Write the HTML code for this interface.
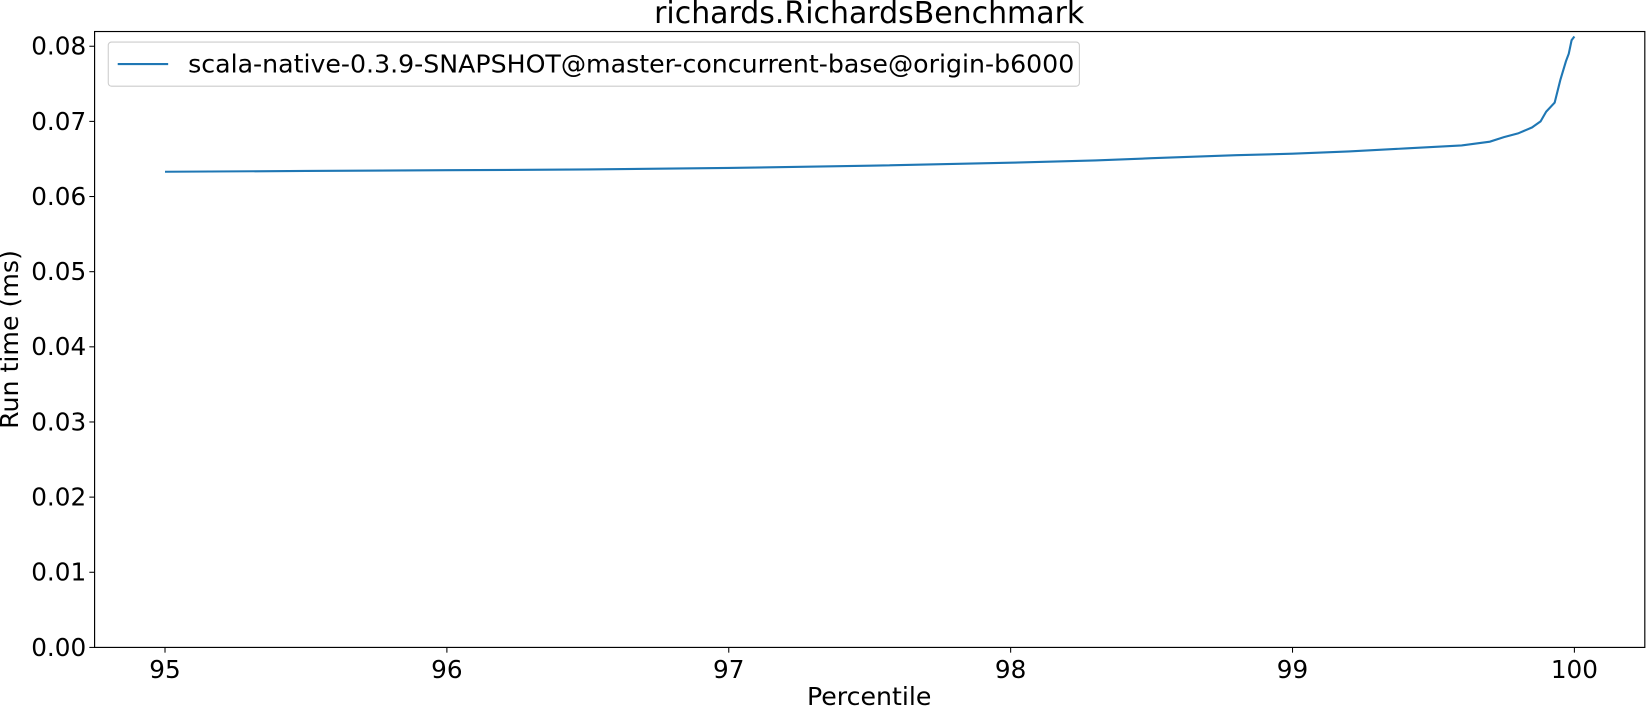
<!DOCTYPE html>
<html><head><meta charset="utf-8"><style>
body{margin:0;background:#fff;}
svg text{font-family:"DejaVu Sans","Liberation Sans",sans-serif;fill:#000;}
</style></head><body>
<svg width="1648" height="710">
<g id="g" transform="scale(1.051)"></g>
</svg>
<script>
const percentiles=[95.0,95.5,96,96.5,97,97.5,98,98.3,98.5,98.8,99,99.2,99.4,99.6,99.7,99.75,99.8,99.85,99.88,99.9,99.93,99.95,99.97,99.98,99.99,100];
const runTimes=[.0633,.0634,.0635,.0636,.0638,.0641,.0645,.0648,.0651,.0655,.0657,.0660,.0664,.0668,.0673,.0679,.0684,.0692,.0700,.0713,.0725,.0755,.0780,.0790,.0808,.0813];
const xTicks=[95,96,97,98,99,100];
const yTicks=[0,0.01,0.02,0.03,0.04,0.05,0.06,0.07,0.08];
const L=90,R=1565,T=30,B=616;
const xs=p=>157+(p-95)*268.2;
const ys=v=>616-v*7150;
const ns='http://www.w3.org/2000/svg';
const g=document.getElementById('g');
function mk(t,a,txt){const e=document.createElementNS(ns,t);for(const k in a)e.setAttribute(k,a[k]);if(txt!==undefined)e.textContent=txt;g.appendChild(e);return e;}
let e;
e=mk('rect',{x:L,y:T,width:R-L,height:B-T,fill:'none',stroke:'#000','stroke-width':1.1});


xTicks.forEach(t=>{const x=xs(t);
e=mk('line',{x1:x,x2:x,y1:B,y2:B+5,stroke:'#000'});


e=mk('text',{x:x,y:B+29,'text-anchor':'middle','font-size':23.5},String(t));

});
yTicks.forEach(t=>{const y=ys(t);
e=mk('line',{x1:L-5,x2:L,y1:y,y2:y,stroke:'#000'});


e=mk('text',{x:L-8,y:y+8,'text-anchor':'end','font-size':23.5},t.toFixed(2));

});
e=mk('polyline',{points:percentiles.map((p,i)=>xs(p)+','+ys(runTimes[i])).join(' '),fill:'none',stroke:'#1f77b4','stroke-width':2});


e=mk('text',{x:827,y:22,'text-anchor':'middle','font-size':28.5},'richards.RichardsBenchmark');


e=mk('text',{x:827,y:671,'text-anchor':'middle','font-size':24},'Percentile');


e=mk('text',{x:17,y:323,'text-anchor':'middle','font-size':24,transform:'rotate(-90 17 323)'},'Run time (ms)');


e=mk('rect',{x:103,y:40,width:924,height:42,rx:3,fill:'#fff',stroke:'#ccc'});


e=mk('line',{x1:112,x2:160,y1:61,y2:61,stroke:'#1f77b4','stroke-width':2});


e=mk('text',{x:179,y:69,'font-size':24},'scala-native-0.3.9-SNAPSHOT@master-concurrent-base@origin-b6000');


</script>
</body></html>
